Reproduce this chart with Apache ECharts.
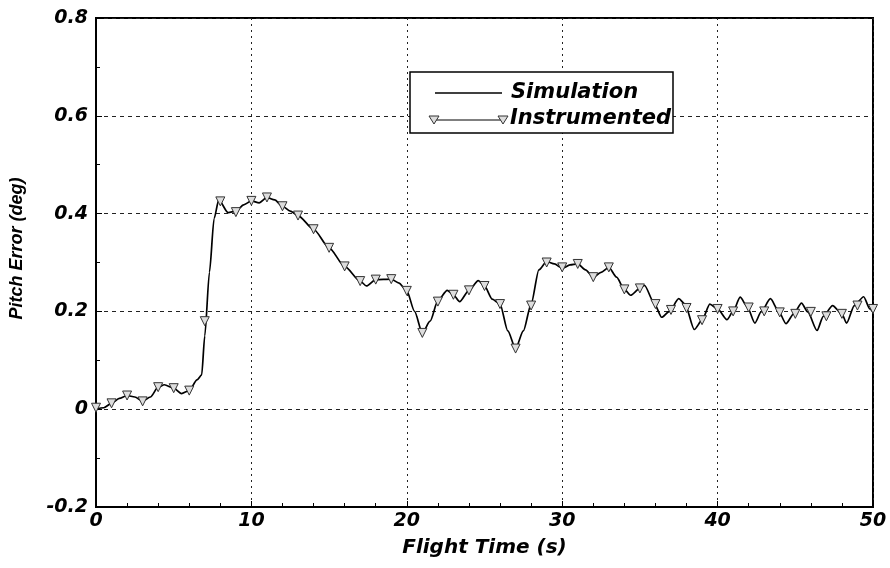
<!DOCTYPE html>
<html>
<head>
<meta charset="utf-8">
<script src="https://cdn.jsdelivr.net/npm/echarts@6/dist/echarts.min.js"></script>
<style>
  html, body { margin: 0; padding: 0; background: #fff; }
  #chart { width: 890px; height: 568px; }
</style>
</head>
<body>
<div id="chart"></div>
<script>
// simulation trace, [time (s), pitch error (deg)]
const simTime = [0, 0.5, 1, 1.5, 2, 2.5, 3, 3.5, 4, 4.4, 5, 5.5, 6, 6.5, 6.8, 7, 7.3, 7.6, 7.9,
  8.5, 9, 9.5, 10, 10.5, 11, 11.5, 12, 12.5, 13, 14, 15, 16, 17, 17.4, 18, 19, 19.5, 20,
  20.5, 21, 21.5, 22, 22.6, 23, 23.4, 24, 24.6, 25, 25.5, 26, 26.5, 27, 27.5, 28, 28.5,
  29, 29.5, 30, 30.5, 31, 31.5, 32, 32.5, 33, 33.5, 34, 34.4, 35, 35.3, 35.9, 36.4, 36.9,
  37.5, 37.9, 38.5, 39, 39.5, 40, 40.6, 41, 41.45, 41.9, 42.4, 42.8, 43.4, 43.9, 44.4,
  44.9, 45.4, 45.8, 46.4, 46.8, 47.4, 48, 48.3, 48.8, 49.4, 49.8, 50];
const simValue = [0, 0.003, 0.012, 0.022, 0.028, 0.025, 0.016, 0.025, 0.045, 0.05, 0.043, 0.032, 0.038, 0.06, 0.07, 0.15, 0.28, 0.39, 0.428,
  0.402, 0.405, 0.418, 0.426, 0.422, 0.433, 0.428, 0.415, 0.405, 0.396, 0.368, 0.33, 0.292, 0.262, 0.252, 0.265, 0.266, 0.258, 0.242,
  0.2, 0.156, 0.18, 0.222, 0.243, 0.234, 0.22, 0.243, 0.263, 0.252, 0.225, 0.215, 0.16, 0.124, 0.16, 0.215, 0.285,
  0.302, 0.297, 0.288, 0.295, 0.297, 0.285, 0.27, 0.28, 0.29, 0.27, 0.245, 0.233, 0.247, 0.253, 0.218, 0.188, 0.2,
  0.226, 0.215, 0.163, 0.182, 0.215, 0.205, 0.183, 0.2, 0.229, 0.21, 0.176, 0.199, 0.226, 0.202, 0.175,
  0.195, 0.217, 0.199, 0.161, 0.19, 0.212, 0.195, 0.176, 0.212, 0.23, 0.205, 0.198];

// instrumented samples, one per second
const instTime = [0, 1, 2, 3, 4, 5, 6, 7, 8, 9, 10, 11, 12, 13, 14, 15, 16, 17, 18, 19, 20, 21, 22, 23, 24, 25,
  26, 27, 28, 29, 30, 31, 32, 33, 34, 35, 36, 37, 38, 39, 40, 41, 42, 43, 44, 45, 46, 47, 48, 49, 50];
const instValue = [0.003, 0.012, 0.028, 0.016, 0.045, 0.043, 0.038, 0.18, 0.425, 0.403, 0.426, 0.433, 0.415, 0.396, 0.368, 0.33,
  0.292, 0.262, 0.265, 0.266, 0.242, 0.156, 0.22, 0.234, 0.243, 0.252, 0.215, 0.124, 0.212, 0.3, 0.29, 0.297, 0.27,
  0.29, 0.245, 0.247, 0.215, 0.203, 0.207, 0.182, 0.205, 0.2, 0.208, 0.2, 0.198, 0.195, 0.199, 0.19, 0.195, 0.212, 0.205];

const xTicks = [0, 10, 20, 30, 40, 50];
const yTicks = [-0.2, 0, 0.2, 0.4, 0.6, 0.8];

const boldIt = { fontFamily: 'DejaVu Sans', fontWeight: 'bold', fontStyle: 'italic', color: '#000' };

let chart = echarts.init(document.getElementById('chart'));
let option = {
  animation: false,
  grid: { left: 95, right: 17, top: 18, bottom: 61, show: true, borderColor: '#000', borderWidth: 2 },
  xAxis: {
    type: 'value', min: xTicks[0], max: xTicks[xTicks.length - 1], interval: 10,
    name: 'Flight Time (s)', nameLocation: 'middle', nameGap: 31,
    nameTextStyle: Object.assign({ fontSize: 20 }, boldIt),
    axisLine: { onZero: false, lineStyle: { color: '#000', width: 2 } },
    axisTick: { inside: true, length: 6, lineStyle: { color: '#000' } },
    minorTick: { show: true, splitNumber: 5, length: 4, lineStyle: { color: '#000' } },
    axisLabel: Object.assign({ fontSize: 19, margin: 5 }, boldIt),
    splitLine: { show: true, lineStyle: { color: '#222', type: [2, 4], width: 1 } }
  },
  yAxis: {
    type: 'value', min: yTicks[0], max: yTicks[yTicks.length - 1], interval: 0.2,
    name: 'Pitch Error (deg)', nameLocation: 'middle', nameGap: 70,
    nameTextStyle: { fontFamily: 'Liberation Sans', fontWeight: 'bold', fontStyle: 'italic', fontSize: 18, color: '#000', padding: [0, 0, 0, 28] },
    axisLine: { show: true, onZero: false, lineStyle: { color: '#000', width: 2 } },
    axisTick: { show: true, inside: true, length: 6, lineStyle: { color: '#000' } },
    minorTick: { show: true, splitNumber: 2, length: 4, lineStyle: { color: '#000' } },
    axisLabel: Object.assign({ fontSize: 19, margin: 8, formatter: v => (Math.abs(v) < 1e-9 ? '0' : v.toFixed(1)) }, boldIt),
    splitLine: { show: true, lineStyle: { color: '#222', type: [4, 4], width: 1 } }
  },
  series: [
    {
      name: 'Simulation', type: 'line', smooth: 0.25, smoothMonotone: 'x', showSymbol: false,
      data: simTime.map((t, i) => [t, simValue[i]]),
      lineStyle: { color: '#000', width: 1.7 }, z: 3
    },
    {
      // instrumented trace runs on top of the simulation line, only the markers stand out
      name: 'Instrumented', type: 'line', smooth: 0.25, smoothMonotone: 'x',
      symbol: 'triangle', symbolRotate: 180, symbolSize: 9,
      data: instTime.map((t, i) => [t, instValue[i]]),
      lineStyle: { color: '#000', width: 1, opacity: 0 },
      itemStyle: { color: '#ddd', borderColor: '#333', borderWidth: 1 }, z: 4
    }
  ],
  graphic: [
    { type: 'rect', shape: { x: 410, y: 72, width: 263, height: 61 }, style: { fill: '#fff', stroke: '#000', lineWidth: 1.5 }, z: 10 },
    { type: 'line', shape: { x1: 435, y1: 93, x2: 502, y2: 93 }, style: { stroke: '#000', lineWidth: 1.5 }, z: 11 },
    { type: 'text', x: 511, y: 93, style: Object.assign({ text: 'Simulation', fontSize: 21, verticalAlign: 'middle', fill: '#000' }, boldIt), z: 11 },
    { type: 'line', shape: { x1: 434, y1: 120, x2: 503, y2: 120 }, style: { stroke: '#000', lineWidth: 1 }, z: 11 },
    { type: 'polygon', shape: { points: [[429, 116], [439, 116], [434, 124]] }, style: { fill: '#ddd', stroke: '#333', lineWidth: 1 }, z: 12 },
    { type: 'polygon', shape: { points: [[498, 116], [508, 116], [503, 124]] }, style: { fill: '#ddd', stroke: '#333', lineWidth: 1 }, z: 12 },
    { type: 'text', x: 510, y: 119, style: Object.assign({ text: 'Instrumented', fontSize: 21, verticalAlign: 'middle', fill: '#000' }, boldIt), z: 11 }
  ]
};
chart.setOption(option);
</script>
</body>
</html>
